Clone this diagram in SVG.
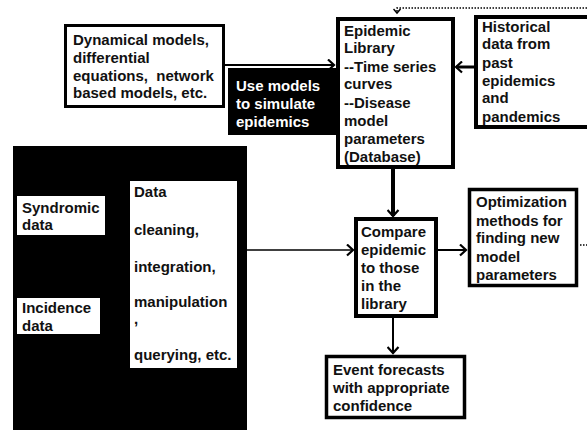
<svg xmlns="http://www.w3.org/2000/svg" width="587" height="430" viewBox="0 0 587 430">
<defs>
<style>
text{font-family:"Liberation Sans",Arial,sans-serif;font-weight:bold;font-size:15px;fill:#111}
.w{fill:#fff}
.box{fill:#fff;stroke:#000}
.blk{fill:#000}
.ln{stroke:#000;fill:none}
</style>
<marker id="ah" markerUnits="userSpaceOnUse" viewBox="-1 -1 9 13" refX="6" refY="5.5" markerWidth="9" markerHeight="13" orient="auto">
<path d="M0,0 L6,5.5 L0,11" fill="none" stroke="#000" stroke-width="2.2"/>
</marker>
<marker id="ahs" markerUnits="userSpaceOnUse" viewBox="-1 -1 7 9" refX="4" refY="3.5" markerWidth="7" markerHeight="9" orient="auto">
<path d="M0,0 L4,3.5 L0,7" fill="none" stroke="#000" stroke-width="1.5"/>
</marker>
</defs>
<rect width="587" height="430" fill="#fff"/>

<g id="connectors">
<line class="ln" x1="225" y1="65" x2="334" y2="65" stroke-width="2.2" marker-end="url(#ah)"/>
<line class="ln" x1="474" y1="67" x2="456" y2="67" stroke-width="3" marker-end="url(#ah)"/>
<line class="ln" x1="393" y1="169" x2="393" y2="216" stroke-width="4" marker-end="url(#ah)"/>
<line class="ln" x1="247" y1="250" x2="353" y2="250" stroke-width="1.6" marker-end="url(#ah)"/>
<line class="ln" x1="438" y1="250" x2="466" y2="250" stroke-width="2" marker-end="url(#ah)"/>
<line class="ln" x1="393" y1="318" x2="393" y2="353" stroke-width="2" marker-end="url(#ah)"/>
<polyline class="ln" points="587,8 397,8 397,13" stroke-width="1.5" stroke-dasharray="1.5,1.5" marker-end="url(#ahs)"/>
<line class="ln" x1="580" y1="245" x2="587" y2="245" stroke-width="1.5" stroke-dasharray="1.5,1.5"/>
</g>

<g id="dynamical">
<rect class="box" x="65.5" y="25.5" width="158" height="81" stroke-width="3"/>
<text x="73" y="45">Dynamical models,</text>
<text x="73" y="63">differential</text>
<text x="73" y="81">equations,&#160; network</text>
<text x="73" y="98">based models, etc.</text>
</g>

<g id="simulate">
<rect class="blk" x="228" y="68" width="108" height="67"/>
<text class="w" x="236" y="91">Use models</text>
<text class="w" x="236" y="109">to simulate</text>
<text class="w" x="236" y="127">epidemics</text>
</g>

<g id="library">
<rect class="box" x="338" y="19" width="115" height="148" stroke-width="4"/>
<text x="344" y="36">Epidemic</text>
<text x="344" y="53">Library</text>
<text x="344" y="72">--Time series</text>
<text x="344" y="89">curves</text>
<text x="344" y="108">--Disease</text>
<text x="344" y="126">model</text>
<text x="344" y="144">parameters</text>
<text x="344" y="162">(Database)</text>
</g>

<g id="historical">
<rect class="box" x="476" y="17" width="120" height="110" stroke-width="4"/>
<text x="482" y="32">Historical</text>
<text x="482" y="49">data from</text>
<text x="482" y="68">past</text>
<text x="482" y="86">epidemics</text>
<text x="482" y="103">and</text>
<text x="482" y="122">pandemics</text>
</g>

<g id="data-area">
<rect class="blk" x="13" y="146" width="234" height="290"/>
</g>

<g id="syndromic">
<rect fill="#fff" x="17" y="196" width="88" height="39"/>
<text x="22" y="213">Syndromic</text>
<text x="22" y="230">data</text>
</g>

<g id="incidence">
<rect fill="#fff" x="17" y="298" width="83" height="36"/>
<text x="22" y="313">Incidence</text>
<text x="22" y="331">data</text>
</g>

<g id="cleaning">
<rect fill="#fff" x="130" y="181" width="107" height="187"/>
<text x="134" y="197">Data</text>
<text x="134" y="235">cleaning,</text>
<text x="134" y="272">integration,</text>
<text x="134" y="307">manipulation</text>
<text x="134" y="324">,</text>
<text x="134" y="360">querying, etc.</text>
</g>

<g id="compare">
<rect class="box" x="356" y="219" width="80" height="97" stroke-width="4"/>
<text x="361" y="237">Compare</text>
<text x="361" y="255">epidemic</text>
<text x="361" y="273">to those</text>
<text x="361" y="291">in the</text>
<text x="361" y="309">library</text>
</g>

<g id="optimization">
<rect class="box" x="469.5" y="189.5" width="107" height="96" stroke-width="3.5"/>
<text x="476" y="207">Optimization</text>
<text x="476" y="226">methods for</text>
<text x="476" y="243">finding new</text>
<text x="476" y="262">model</text>
<text x="476" y="280">parameters</text>
</g>

<g id="forecasts">
<rect class="box" x="326.5" y="356.5" width="138" height="61" stroke-width="3.5"/>
<text x="333" y="375">Event forecasts</text>
<text x="333" y="393">with appropriate</text>
<text x="333" y="411">confidence</text>
</g>
</svg>
